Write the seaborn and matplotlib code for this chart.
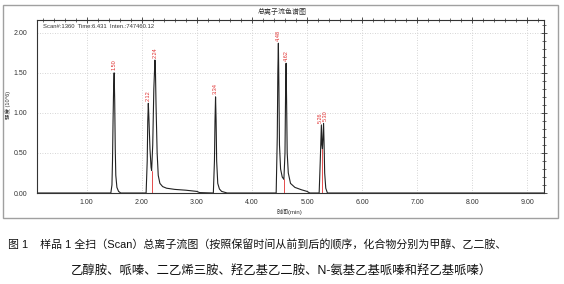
import numpy as np
import pandas as pd
import matplotlib
matplotlib.use("Agg")
import matplotlib.pyplot as plt
from matplotlib.patches import Rectangle
from matplotlib.ticker import MultipleLocator
import seaborn as sns

# ---- data ----
trace_time = [0.10, 1.44, 1.46, 1.47, 1.48, 1.49, 1.50, 1.51, 1.52, 1.53, 1.55, 1.58, 1.62,
              2.08, 2.10, 2.11, 2.12, 2.13, 2.15, 2.17, 2.18, 2.20, 2.22, 2.24, 2.25, 2.26,
              2.28, 2.30, 2.33, 2.38, 2.45, 2.60, 2.80, 3.00, 3.05, 3.30,
              3.32, 3.33, 3.34, 3.35, 3.36, 3.38, 3.41, 3.45, 3.55,
              4.44, 4.46, 4.47, 4.48, 4.49, 4.50, 4.52, 4.55, 4.58, 4.60, 4.61, 4.62, 4.63,
              4.64, 4.66, 4.70, 4.78, 4.90, 5.00, 5.05,
              5.22, 5.24, 5.26, 5.27, 5.28, 5.30, 5.31, 5.32, 5.34, 5.37, 9.30]
trace_inten = [0.0, 0.0, 0.10, 0.40, 0.90, 1.30, 1.50, 1.15, 0.55, 0.22, 0.07, 0.02, 0.0,
               0.0, 0.40, 0.90, 1.12, 0.95, 0.55, 0.32, 0.28, 0.60, 1.30, 1.66, 1.50, 1.10,
               0.50, 0.22, 0.12, 0.08, 0.06, 0.045, 0.035, 0.02, 0.005, 0.0,
               0.40, 0.90, 1.20, 0.90, 0.40, 0.12, 0.05, 0.02, 0.0,
               0.0, 0.70, 1.50, 1.87, 1.30, 0.60, 0.30, 0.20, 0.17, 0.50, 1.20, 1.62, 1.10,
               0.50, 0.25, 0.12, 0.07, 0.04, 0.02, 0.0,
               0.0, 0.40, 0.85, 0.60, 0.55, 0.87, 0.60, 0.25, 0.06, 0.0, 0.0]

peak_rt = [1.50, 2.12, 2.24, 3.34, 4.48, 4.62, 5.26, 5.30]
peak_height = [1.50, 1.12, 1.66, 1.20, 1.87, 1.62, 0.85, 0.87]
peak_label = ["1.50", "2.12", "2.24", "3.34", "4.48", "4.62", "5.26", "5.30"]

# integration baselines (start, end) and split lines
base_start = [1.42, 2.05, 3.28, 4.42, 5.20]
base_end = [1.60, 2.60, 3.55, 4.80, 5.40]
split_rt = [2.18, 4.58, 5.28]
split_h = [0.28, 0.17, 0.55]

x_ticks = [1.00, 2.00, 3.00, 4.00, 5.00, 6.00, 7.00, 8.00, 9.00]
y_ticks = [0.00, 0.50, 1.00, 1.50, 2.00]

title = "总离子流色谱图"
info = "Scan#:1360  Time:6.431  Inten.:747460.12"
xlabel = "时间(min)"
ylabel = "强度 (10^6)"
caption1 = "图 1    样品 1 全扫（Scan）总离子流图（按照保留时间从前到后的顺序，化合物分别为甲醇、乙二胺、"
caption2 = "乙醇胺、哌嗪、二乙烯三胺、羟乙基乙二胺、N-氨基乙基哌嗪和羟乙基哌嗪）"

# ---- drawing ----
sns.set_theme(style="white")
plt.rcParams['font.family'] = ['Liberation Sans', 'Noto Sans CJK SC', 'DejaVu Sans']

W, H = 564, 284
fig = plt.figure(figsize=(W / 100, H / 100), dpi=100)
fig.patch.set_facecolor("white")

def fx(px):
    return px / W

def fy(py):
    return 1 - py / H

# outer frame
fig.patches.append(Rectangle((fx(3), fy(218)), fx(558) - fx(3), fy(5) - fy(218),
                             transform=fig.transFigure, fill=False,
                             edgecolor="#a0a0a0", linewidth=1.0))

ax = fig.add_axes([fx(37), fy(193), fx(544) - fx(37), fy(20) - fy(193)])
df = pd.DataFrame({"time": trace_time, "inten": trace_inten})
sns.lineplot(data=df, x="time", y="inten", ax=ax, color="#222222", linewidth=0.8,
             estimator=None, sort=False)

# red integration marks
for s, e in zip(base_start, base_end):
    ax.plot([s, e], [0.004, 0.004], color="#e03030", linewidth=0.7)
for r, h in zip(split_rt, split_h):
    ax.plot([r, r], [0, h], color="#e03030", linewidth=0.6)

label_dx = [0, 0, 0, 0, 0, 0, -0.025, 0.025]
for r, h, lab, d in zip(peak_rt, peak_height, peak_label, label_dx):
    ax.text(r + d, h + 0.03, lab, rotation=90, color="#e03030", fontsize=4,
            ha="center", va="bottom")

ax.set_xlim(0.10, 9.30)
ax.set_ylim(0.0, 2.16)
ax.set_xticks(x_ticks)
ax.set_xticklabels([f"{v:.2f}" for v in x_ticks])
ax.set_yticks(y_ticks)
ax.set_yticklabels([f"{v:.2f}" for v in y_ticks])
ax.xaxis.set_minor_locator(MultipleLocator(0.2))
ax.yaxis.set_minor_locator(MultipleLocator(0.1))
ax.tick_params(axis="both", which="major", direction="inout", length=4, width=0.6,
               labelsize=5, colors="#333333", top=True, right=True,
               labeltop=False, labelright=False)
ax.tick_params(axis="x", which="major", pad=2)
ax.tick_params(axis="y", which="major", pad=5)
ax.tick_params(axis="both", which="minor", direction="inout", length=3, width=0.5,
               top=True, right=True, colors="#333333")
ax.grid(True, which="major", linestyle=(0, (1, 2)), color="#c8c8c8", linewidth=0.6)
for sp in ax.spines.values():
    sp.set_color("#333333")
    sp.set_linewidth(0.8)
ax.set_xlabel("")
ax.set_ylabel("")

ax.text(0.012, 0.975, info, transform=ax.transAxes, fontsize=4.2, color="#333333",
        ha="left", va="top")

fig.text(fx(282), fy(12), title, fontsize=5, ha="center", va="center", color="#333333")
fig.text(fx(289), fy(211.5), xlabel, fontsize=4.3, ha="center", va="center", color="#333333")
fig.text(fx(8.5), fy(105), ylabel, fontsize=4.0, ha="center", va="center", rotation=90,
         color="#333333")

fig.text(fx(8), fy(244), caption1, fontsize=7.9, ha="left", va="center", color="#111111")
fig.text(fx(281), fy(271), caption2, fontsize=8.9, ha="center", va="center", color="#111111")

fig.savefig("out.png", dpi=100)
